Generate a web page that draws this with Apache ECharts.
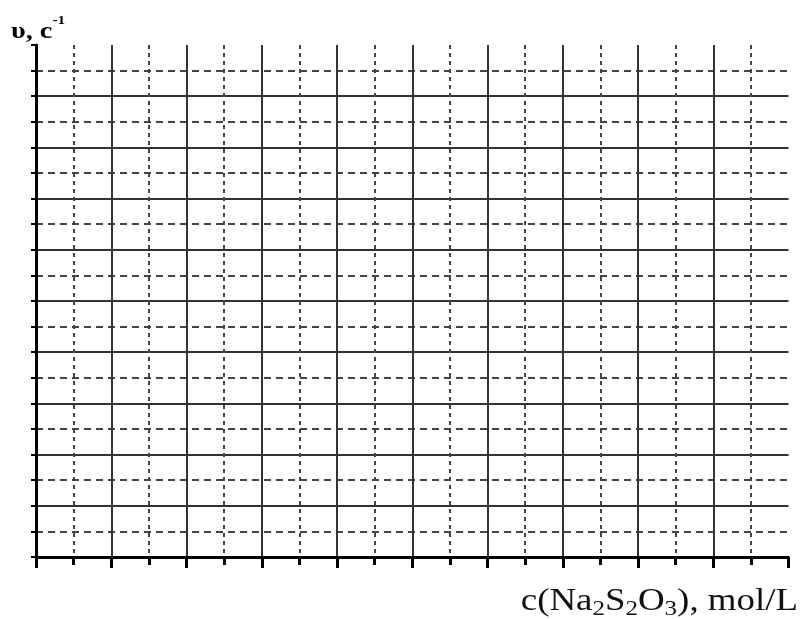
<!DOCTYPE html>
<html>
<head>
<meta charset="utf-8">
<script src="https://cdn.jsdelivr.net/npm/echarts@6/dist/echarts.min.js"></script>
<style>
html,body{margin:0;padding:0;background:#fff;}
#chart{width:802px;height:619px;}
</style>
</head>
<body>
<div id="chart"></div>
<script>
// Empty worksheet grid: no plotted values
const xRange = [0, 10];          // major divisions along concentration axis
const yRange = [0, 10];          // major divisions along rate axis
const majorStep = 1;
const minorSplits = 2;
const seriesValues = [];         // no data points drawn in the reference
const xAxisTitle = '{m|c(Na}{s|2}{m|S}{s|2}{m|O}{s|3}{m|), mol/L}';
const yAxisTitle = '{m|υ, c}{p|-1}';

const chart = echarts.init(document.getElementById('chart'));
chart.setOption({
  animation: false,
  backgroundColor: '#fff',
  grid: { left: 36, right: 13.5, top: 45, bottom: 62 },
  graphic: [
    {
      type: 'text', x: 798, y: 601.5, scaleX: 1.19, silent: true,
      style: {
        text: xAxisTitle, align: 'right', verticalAlign: 'middle',
        rich: {
          m: { fontFamily: 'Liberation Serif', fontSize: 31, lineHeight: 36, fill: '#111' },
          s: { fontFamily: 'Liberation Serif', fontSize: 21, lineHeight: 26, verticalAlign: 'bottom', fill: '#111' }
        }
      }
    },
    {
      type: 'text', x: 11, y: 31.5, scaleX: 1.18, silent: true,
      style: {
        text: yAxisTitle, align: 'left', verticalAlign: 'middle',
        rich: {
          m: { fontFamily: 'Liberation Serif', fontWeight: 'bold', fontSize: 24, lineHeight: 34, fill: '#000' },
          p: { fontFamily: 'Liberation Serif', fontWeight: 'bold', fontSize: 13, lineHeight: 6, verticalAlign: 'top', fill: '#000' }
        }
      }
    }
  ],
  xAxis: {
    type: 'value', min: xRange[0], max: xRange[1], interval: majorStep,
    axisLine: { show: true, lineStyle: { color: '#000', width: 3 } },
    axisTick: { show: true, length: 11, lineStyle: { color: '#000', width: 3 } },
    minorTick: { show: true, splitNumber: minorSplits, length: 8, lineStyle: { color: '#000', width: 3 } },
    axisLabel: { show: false },
    splitLine: { show: true, showMinLine: false, showMaxLine: false, lineStyle: { color: '#333', width: 2 } },
    minorSplitLine: { show: true, lineStyle: { color: '#444', width: 2, type: [4, 4] } }
  },
  yAxis: {
    type: 'value', min: yRange[0], max: yRange[1], interval: majorStep,
    axisLine: { show: true, lineStyle: { color: '#000', width: 3 } },
    axisTick: { show: true, length: 5, lineStyle: { color: '#000', width: 2 } },
    minorTick: { show: true, splitNumber: minorSplits, length: 5, lineStyle: { color: '#000', width: 2 } },
    axisLabel: { show: false },
    splitLine: { show: true, showMinLine: false, showMaxLine: false, lineStyle: { color: '#333', width: 2 } },
    minorSplitLine: { show: true, lineStyle: { color: '#444', width: 2, type: [7, 5] } }
  },
  series: [{ type: 'line', data: seriesValues, silent: true }]
});
</script>
</body>
</html>
